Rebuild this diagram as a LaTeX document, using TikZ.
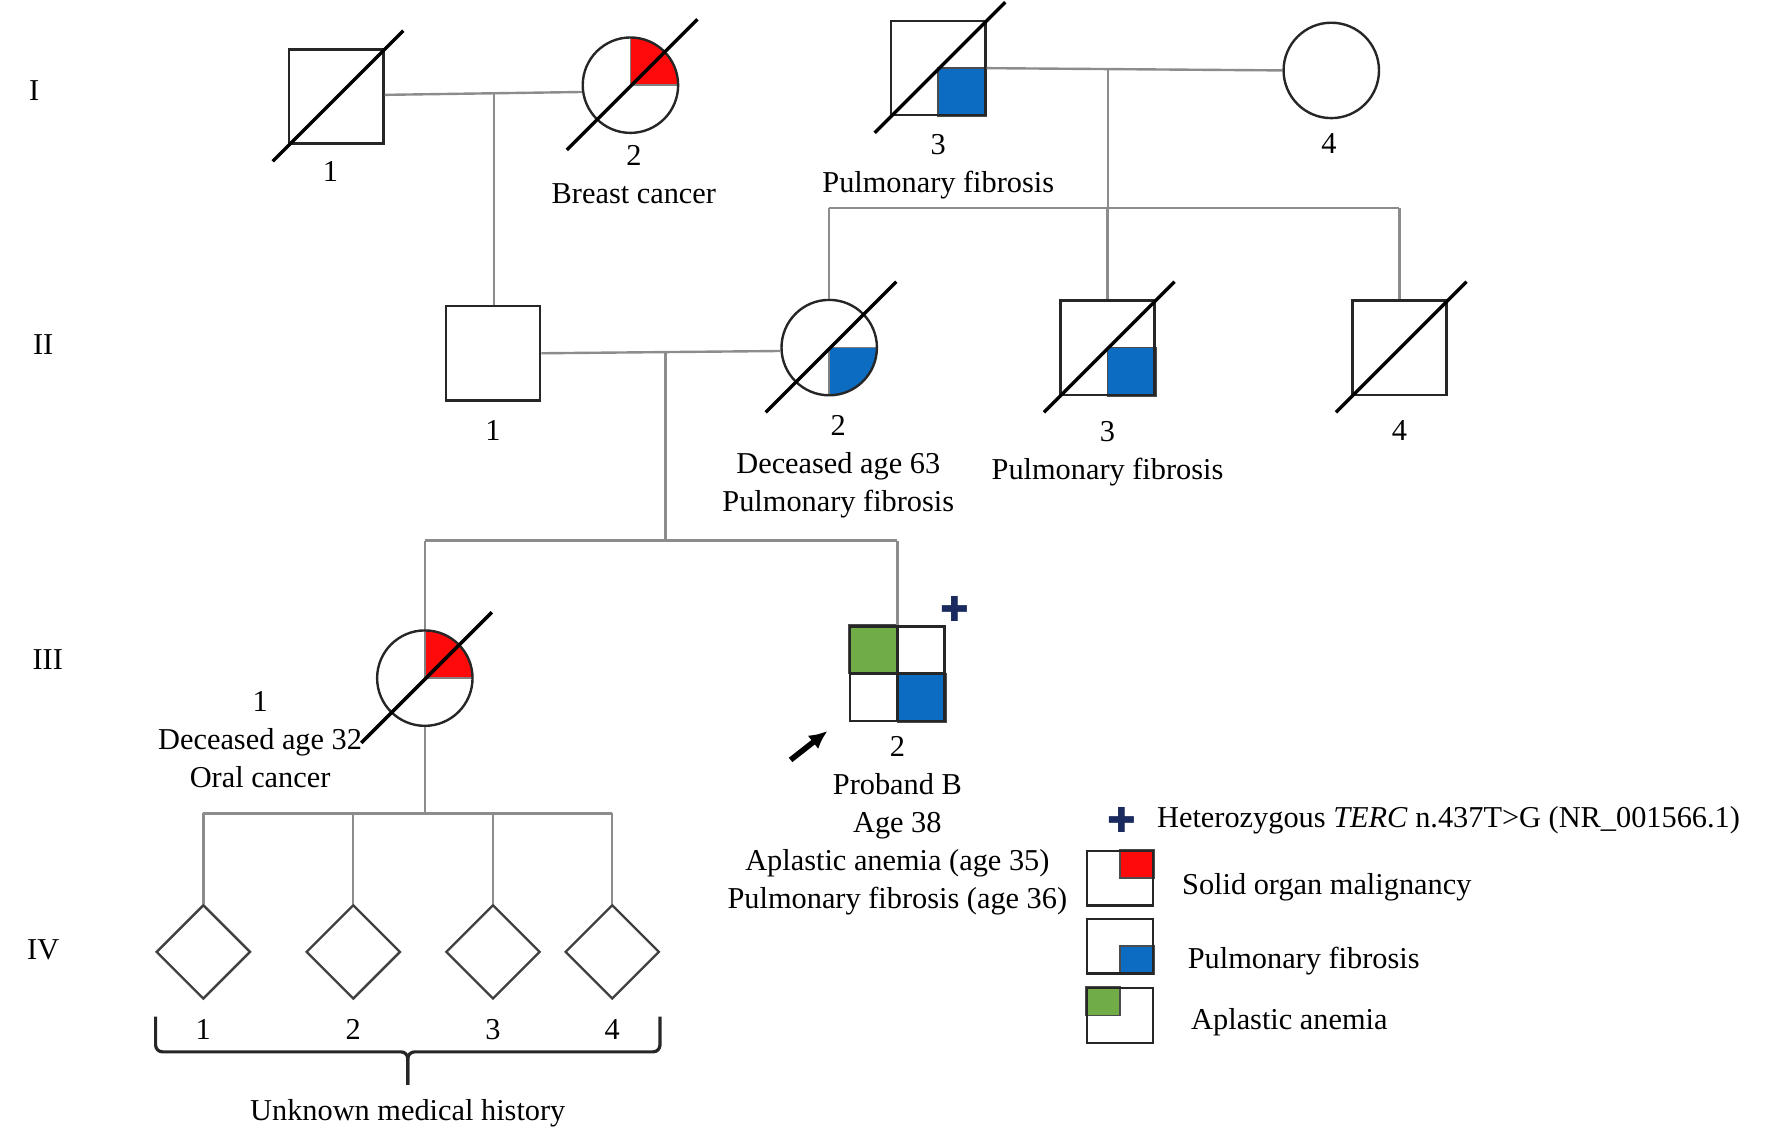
\documentclass[tikz,border=0pt]{standalone}
\usepackage{fontspec}
\setmainfont{Liberation Serif}
\newfontfamily\symfont{DejaVu Sans}
\usetikzlibrary{shapes.geometric,arrows,arrows.meta,calc,positioning,backgrounds}
\definecolor{cancer}{HTML}{FF0A0A}
\definecolor{fibrosis}{HTML}{0B6CC2}
\definecolor{anemia}{HTML}{70AD47}
\definecolor{carrier}{HTML}{1A2A5E}
\def\lblfont{\fontsize{7.6}{9.5}\selectfont}
\def\plusfont{\symfont\fontsize{8.6}{9}\selectfont}
\tikzset{
    male/.style = {draw=black!85, rectangle, line width=0.6pt,
        minimum size=0.83cm, inner sep=0pt},
    female/.style = {draw=black!85, circle, line width=0.6pt,
        minimum size=0.84cm, inner sep=0pt},
    unknown/.style = {draw=black!75, diamond, line width=0.6pt,
        minimum size=0.83cm, inner sep=0pt},
    rel/.style = {draw=black!45, line width=0.6pt},
    dead/.style = {draw=black, line width=0.85pt},
    lbl/.style = {align=center, inner sep=0pt, font=\lblfont, text=black},
    carrierplus/.style = {inner sep=0pt, font=\plusfont, text=carrier},
    legbox/.style = {draw=black!85, rectangle, line width=0.6pt,
        minimum width=0.58cm, minimum height=0.48cm, inner sep=0pt}
}
\def\deceased{%
    ++(-0.56,-0.57) -- ++(1.15,1.15)
}
\def\quarterbox#1#2#3{%
    \filldraw [fill=#2, draw=black!70, line width=0.4pt] (#1.center) rectangle (#1.#3);
}
\def\quarterdisc#1#2#3{%
    \fill [#2] (#1.center) -- ++(#3:0.42) arc[start angle=#3, end angle=#3+90, radius=0.42] -- cycle;
    \draw [black!50, line width=0.4pt] (#1.center) -- ++(#3:0.42) (#1.center) -- ++(#3+90:0.42);
}

\begin{document}
\begin{tikzpicture}[>=latex']
    \useasboundingbox (0,0) rectangle (15.6,-10.08);
    % generations
    \node [lbl] (gI) at (0.30,-0.80) {I};
    \node [lbl] (gII) at (0.38,-3.03) {II};
    \node [lbl] (gIII) at (0.42,-5.81) {III};
    \node [lbl] (gIV) at (0.38,-8.36) {IV};
    % generation I
    \node [male] (I1) at (2.96,-0.85) {};
    \node [female] (I2) at (5.55,-0.75) {};
    \node [male] (I3) at (8.26,-0.60) {};
    \node [female] (I4) at (11.72,-0.62) {};
    % generation II
    \node [male] (II1) at (4.34,-3.11) {};
    \node [female] (II2) at (7.30,-3.06) {};
    \node [male] (II3) at (9.75,-3.06) {};
    \node [male] (II4) at (12.32,-3.06) {};
    % generation III
    \node [female] (III1) at (3.74,-5.97) {};
    \node [male] (III2) at (7.90,-5.93) {};
    % generation IV
    \foreach \n/\x in {1/1.79, 2/3.11, 3/4.34, 4/5.39} {
        \node [unknown] (IV\n) at (\x,-8.38) {};
        \node [lbl, below=0.16cm of IV\n] (tIV\n) {\n};
    }
    % labels
    \node [lbl, below=0.14cm of I1, xshift=-0.05cm] (tI1) {1};
    \node [lbl, below=0.09cm of I2, xshift=0.03cm] (tI2) {2\\Breast cancer};
    \node [lbl, below=0.15cm of I3] (tI3) {3\\Pulmonary fibrosis};
    \node [lbl, below=0.12cm of I4, xshift=-0.02cm] (tI4) {4};
    \node [lbl, below=0.16cm of II1] (tII1) {1};
    \node [lbl, below=0.16cm of II2, xshift=0.08cm] (tII2) {2\\Deceased age 63\\Pulmonary fibrosis};
    \node [lbl, below=0.22cm of II3] (tII3) {3\\Pulmonary fibrosis};
    \node [lbl, below=0.21cm of II4] (tII4) {4};
    \node [lbl, anchor=north] (tIII1) at (2.29,-6.08) {1\\Deceased age 32\\Oral cancer};
    \node [lbl, below=0.12cm of III2] (tIII2) {2\\Proband B\\Age 38\\Aplastic anemia (age 35)\\Pulmonary fibrosis (age 36)};
    % marriages and sibships
    \draw [rel] (I1.2) -- coordinate[pos=0.554] (m1) (I2.188);
    \draw [rel] (m1) -- (m1 |- II1.north);
    \draw [rel] (I3.east) -- coordinate[pos=0.41] (m2) (I4.west);
    \draw [rel] (m2) -- (m2 |- 0,-1.83) coordinate (s2);
    \draw [rel] (II2.north |- s2) -- (II4.north |- s2);
    \foreach \c in {II2,II3,II4} \draw [rel] (\c.north |- s2) -- (\c.north);
    \draw [rel] (II1.east) -- coordinate[pos=0.52] (m3) (II2.184);
    \draw [rel] (m3) -- (m3 |- 0,-4.76) coordinate (s3);
    \draw [rel] (III1.north |- s3) -- (III2.north |- s3);
    \foreach \c in {III1,III2} \draw [rel] (\c.north |- s3) -- (\c.north);
    \draw [rel] (III1.south) -- (III1.south |- 0,-7.16) coordinate (s4);
    \draw [rel] (IV1.north |- s4) -- (IV4.north |- s4);
    \foreach \n in {1,...,4} \draw [rel] (IV\n.north |- s4) -- (IV\n.north);
    % affected quarters
    \begin{scope}[on background layer]
        \quarterdisc{I2}{cancer}{0}
        \quarterbox{I3}{fibrosis}{south east}
        \quarterdisc{II2}{fibrosis}{-90}
        \quarterbox{II3}{fibrosis}{south east}
        \quarterdisc{III1}{cancer}{0}
        \quarterbox{III2}{anemia}{north west}
        \quarterbox{III2}{fibrosis}{south east}
    \end{scope}
    \draw [black!85, line width=0.6pt] (III2.north) -- (III2.south) (III2.west) -- (III2.east);
    % deceased
    \foreach \p in {I1,I2,I3,II2,II3,II4,III1} \draw [dead] (\p) \deceased;
    % proband
    \coordinate (pa) at (6.96,-6.69);
    \draw [-{Latex[length=0.16cm,width=0.15cm]}, line width=1.4pt] (pa) -- ([shift={(-0.19,-0.08)}]III2.south west);
    \node [carrierplus, xshift=0.08cm, yshift=0.14cm] (cplus) at (III2.north east) {✚};
    % unknown history
    \coordinate (bl) at (1.37,-8.95);
    \coordinate (br) at (5.81,-8.95);
    \coordinate (bt) at (3.59,-9.55);
    \draw [black!85, line width=0.8pt, rounded corners=0.06cm] (bl) -- (bl |- 0,-9.26) -- (bt |- 0,-9.26) -- (bt);
    \draw [black!85, line width=0.8pt, rounded corners=0.06cm] (br) -- (br |- 0,-9.26) -- (bt |- 0,-9.26) -- (bt);
    \node [lbl] (umh) at (3.59,-9.80) {Unknown medical history};
    % legend
    \node [carrierplus] (kplus) at (9.88,-7.22) {✚};
    \node [lbl, anchor=west] (ktext) at (10.18,-7.22) {Heterozygous \textit{TERC} n.437T>G (NR\_001566.1)};
    \node [legbox] (k1) at (9.86,-7.73) {};
    \node [legbox] (k2) at (9.86,-8.33) {};
    \node [legbox] (k3) at (9.86,-8.94) {};
    \begin{scope}[on background layer]
        \quarterbox{k1}{cancer}{north east}
        \quarterbox{k2}{fibrosis}{south east}
        \quarterbox{k3}{anemia}{north west}
    \end{scope}
    \node [lbl, anchor=west] (k1text) at (10.40,-7.81) {Solid organ malignancy};
    \node [lbl, anchor=west] (k2text) at (10.45,-8.46) {Pulmonary fibrosis};
    \node [lbl, anchor=west] (k3text) at (10.48,-9.00) {Aplastic anemia};
\end{tikzpicture}
\end{document}
